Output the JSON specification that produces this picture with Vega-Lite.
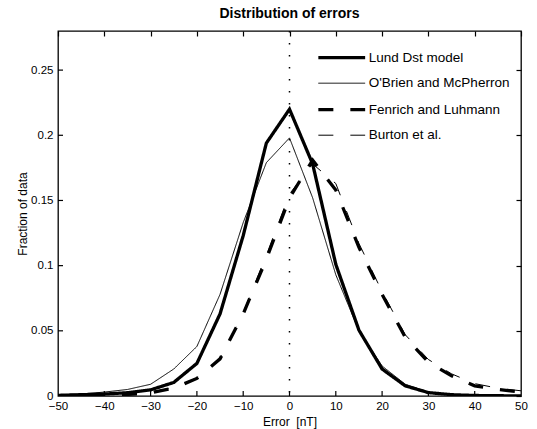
{
  "$schema": "https://vega.github.io/schema/vega-lite/v6.json",
  "width": 463,
  "height": 365,
  "autosize": "none",
  "padding": {"left": 58, "top": 31, "right": 16, "bottom": 33},
  "background": "white",
  "title": {"text": "Distribution of errors", "fontSize": 14, "fontWeight": "bold", "font": "Liberation Sans", "color": "black", "offset": 9},
  "config": {
    "font": "Liberation Sans",
    "view": {"stroke": "black", "strokeWidth": 1.3},
    "axis": {"domain": false, "grid": false, "ticks": true, "tickColor": "black", "tickSize": 5, "tickWidth": 1.2, "tickOpacity": 1, "offset": -5, "labelFlush": false, "labelColor": "black", "labelFontSize": 11.5, "titleColor": "#000000", "titleFontSize": 12, "titleFontWeight": "normal"}
  },
  "resolve": {"axis": {"x": "independent", "y": "independent"}},
  "layer": [
    {
      "data": {"values": [
        {"series": "Lund Dst model", "x": -50, "y": 0.0005},
        {"series": "Lund Dst model", "x": -45, "y": 0.001},
        {"series": "Lund Dst model", "x": -40, "y": 0.0015},
        {"series": "Lund Dst model", "x": -35, "y": 0.0025},
        {"series": "Lund Dst model", "x": -30, "y": 0.0047},
        {"series": "Lund Dst model", "x": -25, "y": 0.0104},
        {"series": "Lund Dst model", "x": -20, "y": 0.025},
        {"series": "Lund Dst model", "x": -15, "y": 0.063},
        {"series": "Lund Dst model", "x": -10, "y": 0.123},
        {"series": "Lund Dst model", "x": -5, "y": 0.194},
        {"series": "Lund Dst model", "x": 0, "y": 0.22},
        {"series": "Lund Dst model", "x": 5, "y": 0.178},
        {"series": "Lund Dst model", "x": 10, "y": 0.101},
        {"series": "Lund Dst model", "x": 15, "y": 0.0505},
        {"series": "Lund Dst model", "x": 20, "y": 0.0207},
        {"series": "Lund Dst model", "x": 25, "y": 0.0078},
        {"series": "Lund Dst model", "x": 30, "y": 0.0026},
        {"series": "Lund Dst model", "x": 35, "y": 0.001},
        {"series": "Lund Dst model", "x": 40, "y": 0.0004},
        {"series": "Lund Dst model", "x": 45, "y": 0.0002},
        {"series": "Lund Dst model", "x": 50, "y": 0.0001},
        {"series": "O'Brien and McPherron", "x": -50, "y": 0.001},
        {"series": "O'Brien and McPherron", "x": -45, "y": 0.0015},
        {"series": "O'Brien and McPherron", "x": -40, "y": 0.003},
        {"series": "O'Brien and McPherron", "x": -35, "y": 0.005},
        {"series": "O'Brien and McPherron", "x": -30, "y": 0.009},
        {"series": "O'Brien and McPherron", "x": -25, "y": 0.0207},
        {"series": "O'Brien and McPherron", "x": -20, "y": 0.038},
        {"series": "O'Brien and McPherron", "x": -15, "y": 0.078},
        {"series": "O'Brien and McPherron", "x": -10, "y": 0.133},
        {"series": "O'Brien and McPherron", "x": -5, "y": 0.179},
        {"series": "O'Brien and McPherron", "x": 0, "y": 0.198},
        {"series": "O'Brien and McPherron", "x": 5, "y": 0.152},
        {"series": "O'Brien and McPherron", "x": 10, "y": 0.093},
        {"series": "O'Brien and McPherron", "x": 15, "y": 0.05},
        {"series": "O'Brien and McPherron", "x": 20, "y": 0.023},
        {"series": "O'Brien and McPherron", "x": 25, "y": 0.009},
        {"series": "O'Brien and McPherron", "x": 30, "y": 0.003},
        {"series": "O'Brien and McPherron", "x": 35, "y": 0.001},
        {"series": "O'Brien and McPherron", "x": 40, "y": 0.0005},
        {"series": "O'Brien and McPherron", "x": 45, "y": 0.0002},
        {"series": "O'Brien and McPherron", "x": 50, "y": 0.0001},
        {"series": "Fenrich and Luhmann", "x": -50, "y": 0.0002},
        {"series": "Fenrich and Luhmann", "x": -45, "y": 0.0004},
        {"series": "Fenrich and Luhmann", "x": -40, "y": 0.0007},
        {"series": "Fenrich and Luhmann", "x": -35, "y": 0.0012},
        {"series": "Fenrich and Luhmann", "x": -30, "y": 0.0025},
        {"series": "Fenrich and Luhmann", "x": -25, "y": 0.006},
        {"series": "Fenrich and Luhmann", "x": -20, "y": 0.0135},
        {"series": "Fenrich and Luhmann", "x": -15, "y": 0.0285},
        {"series": "Fenrich and Luhmann", "x": -10, "y": 0.063},
        {"series": "Fenrich and Luhmann", "x": -5, "y": 0.105},
        {"series": "Fenrich and Luhmann", "x": 0, "y": 0.152},
        {"series": "Fenrich and Luhmann", "x": 5, "y": 0.181},
        {"series": "Fenrich and Luhmann", "x": 10, "y": 0.158},
        {"series": "Fenrich and Luhmann", "x": 15, "y": 0.114},
        {"series": "Fenrich and Luhmann", "x": 20, "y": 0.078},
        {"series": "Fenrich and Luhmann", "x": 25, "y": 0.045},
        {"series": "Fenrich and Luhmann", "x": 30, "y": 0.026},
        {"series": "Fenrich and Luhmann", "x": 35, "y": 0.0155},
        {"series": "Fenrich and Luhmann", "x": 40, "y": 0.0078},
        {"series": "Fenrich and Luhmann", "x": 45, "y": 0.005},
        {"series": "Fenrich and Luhmann", "x": 50, "y": 0.003},
        {"series": "Burton et al.", "x": -50, "y": 0.0002},
        {"series": "Burton et al.", "x": -45, "y": 0.0004},
        {"series": "Burton et al.", "x": -40, "y": 0.0008},
        {"series": "Burton et al.", "x": -35, "y": 0.0014},
        {"series": "Burton et al.", "x": -30, "y": 0.003},
        {"series": "Burton et al.", "x": -25, "y": 0.0065},
        {"series": "Burton et al.", "x": -20, "y": 0.014},
        {"series": "Burton et al.", "x": -15, "y": 0.029},
        {"series": "Burton et al.", "x": -10, "y": 0.064},
        {"series": "Burton et al.", "x": -5, "y": 0.108},
        {"series": "Burton et al.", "x": 0, "y": 0.155},
        {"series": "Burton et al.", "x": 5, "y": 0.178},
        {"series": "Burton et al.", "x": 10, "y": 0.163},
        {"series": "Burton et al.", "x": 15, "y": 0.117},
        {"series": "Burton et al.", "x": 20, "y": 0.08},
        {"series": "Burton et al.", "x": 25, "y": 0.047},
        {"series": "Burton et al.", "x": 30, "y": 0.028},
        {"series": "Burton et al.", "x": 35, "y": 0.017},
        {"series": "Burton et al.", "x": 40, "y": 0.0095},
        {"series": "Burton et al.", "x": 45, "y": 0.006},
        {"series": "Burton et al.", "x": 50, "y": 0.004}
      ]},
      "mark": {"type": "line", "color": "black", "clip": true},
      "encoding": {
        "x": {"field": "x", "type": "quantitative", "scale": {"domain": [-50, 50], "nice": false, "zero": false}, "axis": null},
        "y": {"field": "y", "type": "quantitative", "scale": {"domain": [0, 0.28], "nice": false}, "axis": null},
        "strokeWidth": {"field": "series", "type": "nominal",
          "scale": {"type": "ordinal", "domain": ["Lund Dst model", "O'Brien and McPherron", "Fenrich and Luhmann", "Burton et al."], "range": [3.3, 1, 3.3, 1]},
          "legend": {"title": null, "orient": "none", "legendX": 268.75, "legendY": 11.7, "padding": 0, "rowPadding": 5, "symbolType": "M-1.8,0H1.8", "symbolSize": 676, "symbolStrokeColor": "black", "labelOffset": 12, "labelFontSize": 13.5, "labelColor": "black", "labelFont": "Liberation Sans"}},
        "strokeDash": {"field": "series", "type": "nominal",
          "scale": {"type": "ordinal", "domain": ["Lund Dst model", "O'Brien and McPherron", "Fenrich and Luhmann", "Burton et al."], "range": [[1, 0], [1, 0], [15, 17], [15, 17]]},
          "legend": {"title": null, "orient": "none", "legendX": 268.75, "legendY": 11.7, "padding": 0, "rowPadding": 5, "symbolType": "M-1.8,0H1.8", "symbolSize": 676, "symbolStrokeColor": "black", "labelOffset": 12, "labelFontSize": 13.5, "labelColor": "black", "labelFont": "Liberation Sans"}}
      }
    },
    {
      "data": {"values": [{"ref": 0}]},
      "mark": {"type": "rule", "color": "black", "strokeDash": [1.5, 10.5], "strokeWidth": 1.5},
      "encoding": {
        "x": {"field": "ref", "type": "quantitative", "axis": {"orient": "top", "values": [-50, -40, -30, -20, -10, 0, 10, 20, 30, 40, 50], "labels": false, "title": null}}
      }
    },
    {
      "data": {"values": [{"ref": 0}]},
      "mark": {"type": "point", "opacity": 0},
      "encoding": {
        "x": {"field": "ref", "type": "quantitative",
              "axis": {"orient": "bottom", "values": [-50, -40, -30, -20, -10, 0, 10, 20, 30, 40, 50], "format": "d", "title": "Error \u00a0[nT]", "ticks": false, "labelPadding": 9, "titlePadding": 5}},
        "y": {"field": "ref", "type": "quantitative",
              "axis": {"orient": "left", "values": [0, 0.05, 0.1, 0.15, 0.2, 0.25], "labelExpr": "datum.value == 0 ? '0' : format(datum.value, '.2~f')", "title": "Fraction of data", "ticks": false, "labelPadding": 10, "titlePadding": 1}}
      }
    },
    {
      "data": {"values": [{"v": -40}, {"v": -30}, {"v": -20}, {"v": -10}, {"v": 0}, {"v": 10}, {"v": 20}, {"v": 30}, {"v": 40}]},
      "mark": {"type": "tick", "orient": "vertical", "color": "black", "size": 10, "thickness": 1.2, "opacity": 1, "clip": true},
      "encoding": {
        "x": {"field": "v", "type": "quantitative", "axis": null},
        "y": {"datum": 0, "type": "quantitative", "axis": null}
      }
    },
    {
      "data": {"values": [{"v": 0.05}, {"v": 0.1}, {"v": 0.15}, {"v": 0.2}, {"v": 0.25}]},
      "mark": {"type": "tick", "orient": "horizontal", "color": "black", "size": 10, "thickness": 1.2, "opacity": 1, "clip": true},
      "encoding": {
        "y": {"field": "v", "type": "quantitative", "axis": null},
        "x": {"datum": -50, "type": "quantitative", "axis": null}
      }
    },
    {
      "data": {"values": [{"ref": 0}]},
      "mark": {"type": "point", "opacity": 0},
      "encoding": {
        "x": {"field": "ref", "type": "quantitative", "axis": null},
        "y": {"field": "ref", "type": "quantitative", "axis": {"orient": "right", "values": [0, 0.05, 0.1, 0.15, 0.2, 0.25], "labels": false, "title": null}}
      }
    }
  ]
}
